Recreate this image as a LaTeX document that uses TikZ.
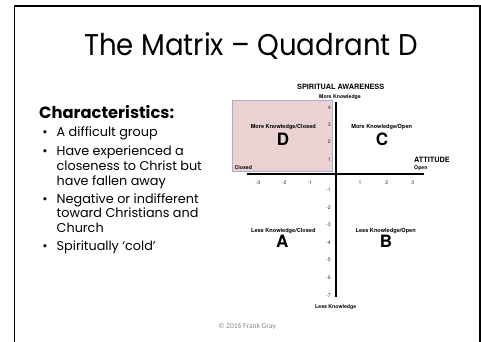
\documentclass[tikz,border=0pt]{standalone}
\usepackage{fontspec}
\usepackage{graphicx}
\setmainfont{Poppins}
\newfontfamily\helfont{TeX Gyre Heros}
\newfontfamily\carlfont{Carlito}
\definecolor{pinkq}{HTML}{EBD2D2}
\definecolor{blueb}{HTML}{A8AED6}
\definecolor{copyg}{HTML}{8A8A8A}
\tikzset{
  lbl/.style={inner sep=0pt, font=\helfont\bfseries\fontsize{5.6}{6}\selectfont},
  tick/.style={inner sep=0pt, font=\helfont\fontsize{5.2}{6}\selectfont, text=black!80},
  big/.style={inner sep=0pt, font=\helfont\bfseries\fontsize{17}{18}\selectfont},
  btext/.style={inner sep=0pt, anchor=base west, font=\fontsize{12.8}{14}\selectfont},
  bul/.style={inner sep=0pt, anchor=base, font=\fontsize{12.8}{14}\selectfont},
}
\begin{document}
\begin{tikzpicture}[x=1pt,y=-1pt]
\useasboundingbox (0,0) rectangle (481,342);
\fill[white] (0,0) rectangle (481,342);
% frame
\coordinate (fbl) at (14.5,343);
\coordinate (ftl) at (14.5,6);
\coordinate (ftr) at (480,6);
\coordinate (fbr) at (480,343);
\draw[line width=1.4pt] (fbl) -- (ftl) -- (ftr) -- (fbr);
% title
\node[inner sep=0pt, anchor=base, font=\fontsize{30}{32}\selectfont] (title) at (251,56) {\scalebox{0.92}[1]{The Matrix -- Quadrant D}};
% left list
\node[inner sep=0pt, anchor=base west, font=\bfseries\fontsize{16.3}{18}\selectfont] (char) at (39,118) {Characteristics:};
\node[bul] (b1) at (45,136.5) {•};
\node[btext] (t1) at (56.5,136.5) {A difficult group};
\node[bul] (b2) at (45,155) {•};
\node[btext] (t2a) at (56.5,155) {Have experienced a};
\node[btext] (t2b) at (56.5,170) {closeness to Christ but};
\node[btext] (t2c) at (56.5,185) {have fallen away};
\node[bul] (b3) at (45,203.3) {•};
\node[btext] (t3a) at (56.5,203.3) {Negative or indifferent};
\node[btext] (t3b) at (56.5,217.7) {toward Christians and};
\node[btext] (t3c) at (56.5,232.3) {Church};
\node[bul] (b4) at (45,250.7) {•};
\node[btext] (t4) at (56.5,250.7) {Spiritually ‘cold’};
% quadrant D shading
\node[draw=blueb, fill=pinkq, line width=0.6pt, minimum width=100pt, minimum height=70.5pt, inner sep=0pt] (qd) at (282.3,135.8) {};
% axes
\coordinate (xl) at (247,174.3);
\coordinate (xr) at (424,174.3);
\coordinate (yt) at (336,102);
\coordinate (yb) at (336,297);
\draw[line width=2.2pt] (xl) -- (xr);
\draw[line width=2pt] (yt) -- (yb);
% y tick labels
\foreach \v/\y in {4/107.3,3/124.3,2/141.7,1/159.7,-1/189.3,-2/207.3,-3/224.7,-4/242.3,-5/260,-6/278,-7/295.7}{
  \node[tick, anchor=east] (ty\v) at (331,\y) {\v};
}
% x tick labels
\foreach \v/\x in {-3/258,-2/284.3,-1/310,1/360,2/386.7,3/412.7}{
  \node[tick] (tx\v) at (\x,183) {\v};
}
% axis titles
\node[lbl, font=\helfont\bfseries\fontsize{7.3}{8}\selectfont] (sa) at (340.7,87.3) {SPIRITUAL AWARENESS};
\node[lbl, font=\helfont\bfseries\fontsize{5.2}{6}\selectfont] (mk) at (340,97.3) {More Knowledge};
\node[lbl, font=\helfont\bfseries\fontsize{7.3}{8}\selectfont, anchor=west] (att) at (414,160.3) {ATTITUDE};
\node[lbl, font=\helfont\bfseries\fontsize{5.2}{6}\selectfont, anchor=west] (op) at (414,168.3) {Open};
\node[lbl, font=\helfont\bfseries\fontsize{5.2}{6}\selectfont, anchor=west] (cl) at (234.5,167.7) {Closed};
\node[lbl, font=\helfont\bfseries\fontsize{5.2}{6}\selectfont] (lk) at (335.7,307) {Less Knowledge};
% quadrant labels
\node[lbl] (ld) at (283.3,127.3) {More Knowledge/Closed};
\node[big] (D) at (283,139.3) {D};
\node[lbl] (lc) at (381.7,127.3) {More Knowledge/Open};
\node[big] (C) at (382,139.3) {C};
\node[lbl] (la) at (283.3,230.7) {Less Knowledge/Closed};
\node[big] (A) at (282.3,241) {A};
\node[lbl] (lb) at (385.7,231) {Less Knowledge/Open};
\node[big] (B) at (386,241) {B};
% copyright
\node[inner sep=0pt, text=copyg, font=\carlfont\fontsize{7.5}{8}\selectfont] (copy) at (247,326.7) {© 2016 Frank Gray};
\end{tikzpicture}
\end{document}
